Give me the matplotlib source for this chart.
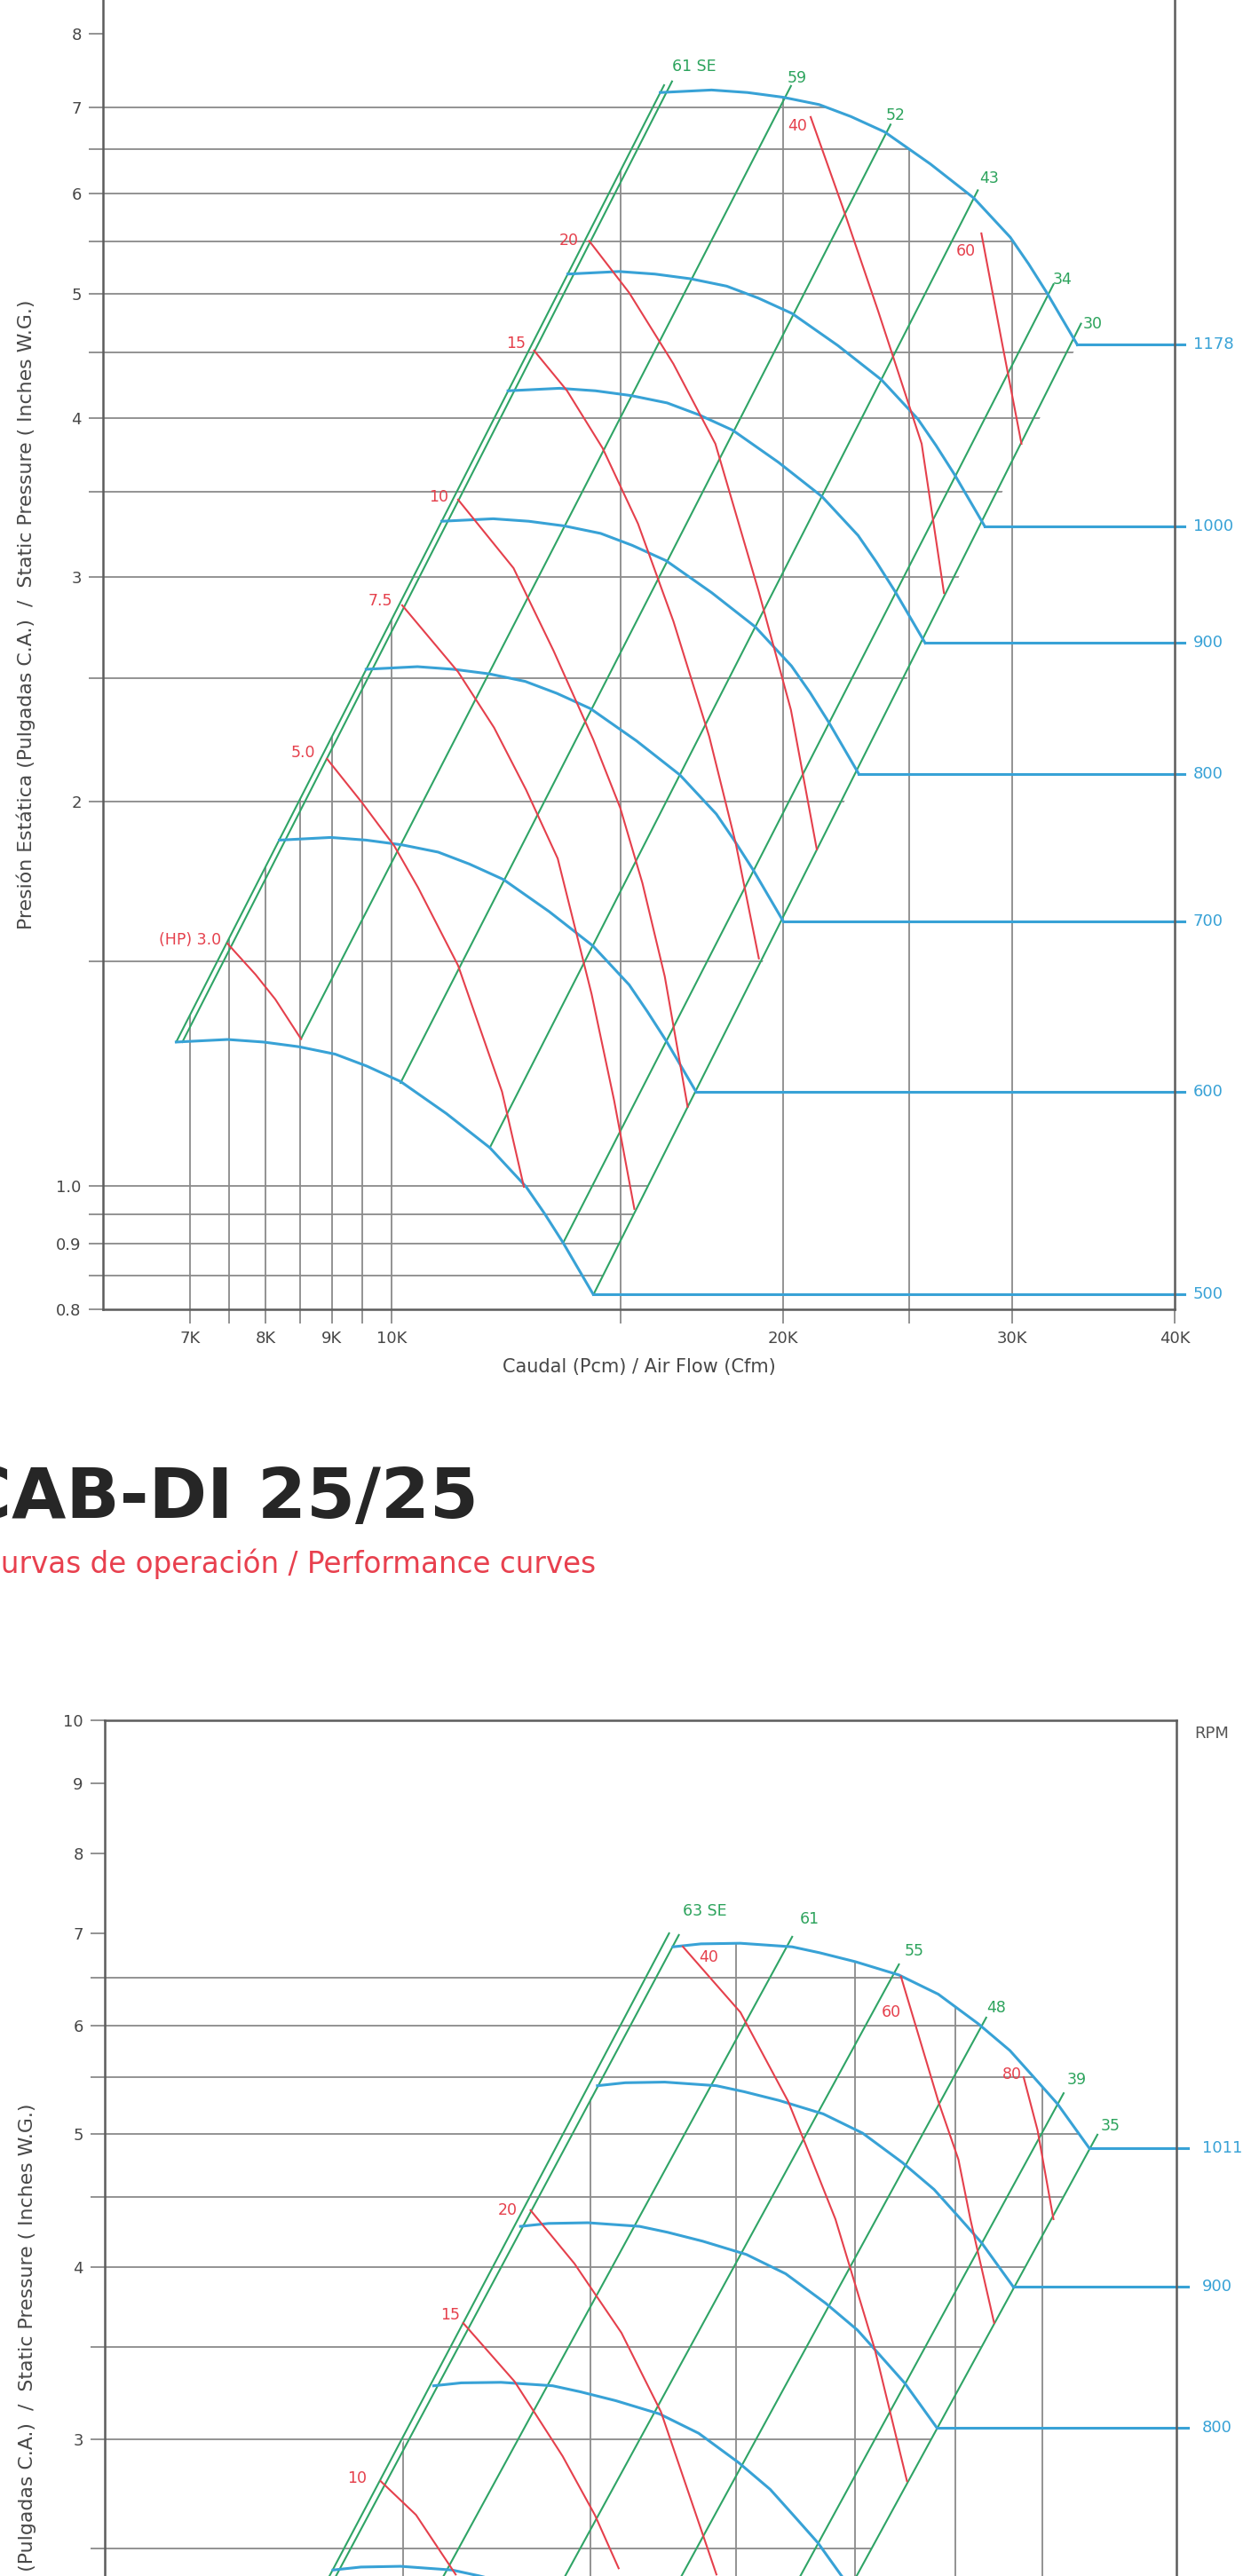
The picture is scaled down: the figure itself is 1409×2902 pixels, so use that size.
"""
CAB-DI: curvas de operación (dos gráficos log-log, recortados como en la hoja
del catálogo). Caudal en miles de CFM, presión estática en pulgadas C.A.
"""
import matplotlib
matplotlib.use("Agg")
import matplotlib.pyplot as plt
import matplotlib.transforms as mtransforms
from matplotlib.patches import Polygon
from matplotlib.ticker import FixedLocator, FixedFormatter, NullLocator

plt.rcParams["font.family"] = ["DejaVu Sans"]

W, H, DPI = 1409, 2902, 100

GRID = "#8a8a8a"
SPINE = "#5c5c5c"
TXT = "#474747"
BLUE = "#38a2d6"
GREEN = "#2fa466"
GREEN_TXT = "#2ca35c"
RED = "#e5404c"

# ── gráfico superior ──────────────────────────────────────────────────────────
A_RPM = ["500", "600", "700", "800", "900", "1000", "1178"]
A_Q500 = [6.83, 7.48, 7.97, 8.49, 9.05, 9.57, 10.16, 11.02, 11.90, 12.69, 13.11, 13.55, 14.29]
A_P500 = [1.296, 1.302, 1.296, 1.285, 1.268, 1.241, 1.207, 1.139, 1.071, 0.998, 0.951, 0.902, 0.822]
A_Q600 = [8.20, 8.98, 9.56, 10.19, 10.86, 11.48, 12.19, 13.22, 14.28, 15.23, 15.73, 16.26, 17.15]
A_P600 = [1.866, 1.875, 1.866, 1.850, 1.826, 1.787, 1.738, 1.640, 1.542, 1.437, 1.369, 1.299, 1.184]
A_Q700 = [9.56, 10.47, 11.16, 11.89, 12.67, 13.40, 14.22, 15.43, 16.66, 17.77, 18.35, 18.97, 20.01]
A_P700 = [2.540, 2.552, 2.540, 2.519, 2.485, 2.432, 2.366, 2.232, 2.099, 1.956, 1.864, 1.768, 1.611]
A_Q800 = [10.93, 11.97, 12.75, 13.58, 14.48, 15.31, 16.26, 17.63, 19.04, 20.30, 20.98, 21.68, 22.86]
A_P800 = [3.318, 3.333, 3.318, 3.290, 3.246, 3.177, 3.090, 2.916, 2.742, 2.555, 2.435, 2.309, 2.104]
A_Q900 = [12.29, 13.46, 14.35, 15.28, 16.29, 17.23, 18.29, 19.84, 21.42, 22.84, 23.60, 24.39, 25.72]
A_P900 = [4.199, 4.218, 4.199, 4.163, 4.108, 4.021, 3.911, 3.690, 3.470, 3.234, 3.081, 2.922, 2.663]
A_Q1000 = [13.66, 14.96, 15.94, 16.98, 18.10, 19.14, 20.32, 22.04, 23.80, 25.38, 26.22, 27.10, 28.58]
A_P1000 = [5.184, 5.208, 5.184, 5.140, 5.072, 4.964, 4.828, 4.556, 4.284, 3.992, 3.804, 3.608, 3.288]
A_Q1178 = [16.09, 17.62, 18.78, 20.00, 21.32, 22.55, 23.94, 25.96, 28.04, 29.90, 30.89, 31.92, 33.67]
A_P1178 = [7.194, 7.227, 7.194, 7.133, 7.039, 6.889, 6.700, 6.323, 5.945, 5.540, 5.279, 5.007, 4.563]

A_SURGE_LABEL = "61 SE"
A_SURGE_Q = [[6.83, 16.20], [6.905, 16.43]]
A_SURGE_P = [[1.296, 7.29], [1.296, 7.34]]

A_SYS_LABELS = ["59", "52", "43", "34", "30"]
A_SYS_Q = [[8.52, 20.28], [10.16, 24.19], [11.90, 28.23], [13.55, 32.28], [14.30, 33.89]]
A_SYS_P = [[1.304, 7.28], [1.204, 6.79], [1.071, 6.03], [0.902, 5.09], [0.822, 4.74]]

A_HP_LABELS = ["(HP) 3.0", "5.0", "7.5", "10", "15", "20", "40", "60"]
A_HP_Q = [
    [7.48, 7.86, 8.14, 8.52],
    [8.92, 9.50, 10.05, 10.48, 11.25, 12.16, 12.64],
    [10.19, 11.25, 11.99, 12.69, 13.42, 14.25, 14.83, 15.37],
    [11.25, 12.41, 13.32, 14.29, 14.99, 15.59, 16.22, 16.89],
    [12.87, 13.64, 14.53, 15.47, 16.47, 17.55, 18.39, 19.16],
    [14.19, 15.23, 16.47, 17.74, 19.16, 20.28, 21.23],
    [21.00, 22.22, 23.66, 25.56, 26.59],
    [28.41, 29.44, 30.50],
]
A_HP_P = [
    [1.548, 1.464, 1.400, 1.303],
    [2.161, 1.994, 1.846, 1.713, 1.488, 1.185, 0.998],
    [2.851, 2.528, 2.286, 2.043, 1.805, 1.413, 1.166, 0.959],
    [3.450, 3.049, 2.627, 2.238, 1.978, 1.727, 1.459, 1.153],
    [4.515, 4.201, 3.786, 3.303, 2.770, 2.249, 1.856, 1.507],
    [5.503, 5.012, 4.408, 3.816, 2.920, 2.360, 1.835],
    [6.883, 5.853, 4.852, 3.816, 2.915],
    [5.579, 4.602, 3.816],
]

A_XTICKS = [7, 7.5, 8, 8.5, 9, 9.5, 10, 15, 20, 25, 30, 40]
A_XLABELS = ["7K", "", "8K", "", "9K", "", "10K", "", "20K", "", "30K", "40K"]
A_VGRID = [7, 7.5, 8, 8.5, 9, 9.5, 10, 15, 20, 25, 30]
A_YLABELS = ["0.8", "", "0.9", "", "1.0", "", "2", "", "3", "", "4", "", "5", "", "6", "", "7", "8", "", ""]

# ── gráfico inferior: CAB-DI 25/25 ────────────────────────────────────────────
B_RPM = ["", "700", "800", "900", "1011"]
B_Q600 = [13.47, 14.06, 14.94, 16.17, 16.87, 17.82, 19.05, 20.24, 21.52, 22.59, 23.43, 24.30, 25.51]
B_P600 = [2.410, 2.422, 2.425, 2.410, 2.386, 2.351, 2.299, 2.226, 2.118, 2.026, 1.937, 1.853, 1.721]
B_Q700 = [15.72, 16.40, 17.43, 18.87, 19.69, 20.79, 22.23, 23.61, 25.11, 26.35, 27.34, 28.35, 29.76]
B_P700 = [3.281, 3.297, 3.300, 3.281, 3.248, 3.200, 3.130, 3.030, 2.884, 2.758, 2.637, 2.522, 2.342]
B_Q800 = [17.96, 18.75, 19.92, 21.56, 22.50, 23.75, 25.40, 26.98, 28.69, 30.12, 31.24, 32.40, 34.01]
B_P800 = [4.285, 4.306, 4.311, 4.285, 4.243, 4.180, 4.088, 3.958, 3.767, 3.602, 3.445, 3.294, 3.060]
B_Q900 = [20.21, 21.09, 22.41, 24.26, 25.31, 26.72, 28.58, 30.36, 32.28, 33.88, 35.14, 36.44, 38.26]
B_P900 = [5.423, 5.450, 5.456, 5.423, 5.369, 5.290, 5.173, 5.009, 4.767, 4.558, 4.360, 4.169, 3.872]
B_Q1011 = [22.70, 23.69, 25.17, 27.25, 28.43, 30.02, 32.10, 34.10, 36.26, 38.06, 39.48, 40.94, 42.98]
B_P1011 = [6.843, 6.877, 6.884, 6.843, 6.775, 6.675, 6.528, 6.321, 6.015, 5.752, 5.501, 5.261, 4.886]

B_SURGE_LABEL = "63 SE"
B_SURGE_Q = [[13.20, 22.56], [13.33, 22.90]]
B_SURGE_P = [[2.314, 7.00], [2.314, 6.98]]

B_SYS_LABELS = ["61", "55", "48", "39", "35"]
B_SYS_Q = [[15.50, 27.25], [18.50, 32.10], [21.50, 36.70], [24.30, 41.33], [25.51, 43.53]]
B_SYS_P = [[2.250, 6.959], [2.207, 6.645], [2.086, 6.078], [1.850, 5.355], [1.716, 4.996]]

B_HP_LABELS = ["10", "15", "20", "40", "60", "80"]
B_HP_Q = [
    [14.49, 15.30, 16.26],
    [16.45, 17.80, 19.16, 20.13, 20.88],
    [18.24, 19.51, 20.97, 22.28, 24.26],
    [23.04, 25.17, 27.08, 28.08, 29.12, 30.94, 32.50],
    [32.20, 34.10, 35.17, 35.82, 37.15],
    [38.87, 39.71, 40.69],
]
B_HP_P = [
    [2.797, 2.643, 2.392],
    [3.644, 3.304, 2.916, 2.643, 2.417],
    [4.402, 4.026, 3.585, 3.141, 2.392],
    [6.846, 6.132, 5.284, 4.792, 4.337, 3.485, 2.797],
    [6.511, 5.284, 4.792, 4.337, 3.645],
    [5.501, 5.033, 4.337],
]

B_XTICKS = [10, 15, 20, 25, 30, 35, 40]
B_XLABELS = ["", "", "", "", "", "", ""]
B_VGRID = [10, 15, 20, 25, 30, 35, 40]
B_YLABELS = ["", "", "", "", "", "", "", "", "3", "", "4", "", "5", "", "6", "", "7", "8", "9", "10"]

YTICKS = [0.8, 0.85, 0.9, 0.95, 1.0, 1.5, 2, 2.5, 3, 3.5, 4, 4.5, 5, 5.5, 6, 6.5, 7, 8, 9, 10]
HGRID = [0.85, 0.9, 0.95, 1.0, 1.5, 2, 2.5, 3, 3.5, 4, 4.5, 5, 5.5, 6, 6.5, 7, 7.5, 8, 9]

YLABEL = "Presión Estática (Pulgadas C.A.)  /  Static Pressure ( Inches W.G.)"
XLABEL = "Caudal (Pcm) / Air Flow (Cfm)"

# desplazamientos de etiquetas, en píxeles (x, y hacia arriba)
A_SURGE_OFF = (0, 17)
A_SYS_OFF = [(-4, 9), (-5, 10), (2, 13), (-1, 5), (2, 0)]
A_HP_OFF = [(-7, 4), (-13, 7), (-11, 5), (-11, 3), (-9, 8), (-12, 0), (-15, -10), (-18, -20)]
A_HP_HA = ["right"] * 6 + ["center", "center"]
B_SURGE_OFF = (4, 27)
B_SYS_OFF = [(9, 20), (6, 15), (0, 11), (4, 15), (4, 10)]
B_HP_OFF = [(-16, 3), (-4, 9), (-15, 0), (29, -12), (-11, -40), (-13, 3)]
B_HP_HA = ["right", "right", "right", "center", "center", "center"]


def off(d):
    return d[0] * 72 / DPI, d[1] * 72 / DPI


def setup_axes(ax, xlim, xticks, xlabels, ylabels):
    ax.set_xscale("log")
    ax.set_yscale("log")
    ax.set_xlim(*xlim)
    ax.set_ylim(0.8, 10)
    ax.xaxis.set_major_locator(FixedLocator(xticks))
    ax.xaxis.set_major_formatter(FixedFormatter(xlabels))
    ax.yaxis.set_major_locator(FixedLocator(YTICKS))
    ax.yaxis.set_major_formatter(FixedFormatter(ylabels))
    ax.xaxis.set_minor_locator(NullLocator())
    ax.yaxis.set_minor_locator(NullLocator())
    ax.tick_params(which="major", direction="out", length=11.5, width=1.3,
                   color=GRID, labelsize=13, labelcolor=TXT)
    ax.tick_params(axis="y", pad=6)
    ax.tick_params(axis="x", pad=6)
    for s in ax.spines.values():
        s.set_color(SPINE)
        s.set_linewidth(1.8)
        s.set_zorder(6)


def draw_grid(ax, hvals, vvals, hpoly, vpoly):
    # las líneas de la rejilla terminan en el borde de la zona de operación
    hp = Polygon(hpoly, closed=True, transform=ax.transData, fill=False, edgecolor="none")
    vp = Polygon(vpoly, closed=True, transform=ax.transData, fill=False, edgecolor="none")
    for y in hvals:
        ln = ax.axhline(y, color=GRID, lw=1.3, zorder=1)
        ln.set_clip_path(hp)
    for x in vvals:
        ln = ax.axvline(x, color=GRID, lw=1.3, zorder=1)
        ln.set_clip_path(vp)


def draw_fan(ax, curves, rpms, line_x, label_x, rpm_title):
    blend = mtransforms.blended_transform_factory(ax.transAxes, ax.transData)
    to_axes = ax.transAxes.inverted()
    for (q, p), rpm in zip(curves, rpms):
        ax.plot(q, p, color=BLUE, lw=2.2, zorder=4, solid_joinstyle="round")
        x0 = to_axes.transform(ax.transData.transform((q[-1], p[-1])))[0]
        ax.plot([x0, line_x], [p[-1], p[-1]], transform=blend, color=BLUE,
                lw=2.2, zorder=4, clip_on=False)
        if rpm:
            ax.text(label_x, p[-1], rpm, transform=blend, color=BLUE,
                    fontsize=13, ha="left", va="center")
    if rpm_title:
        ax.text(label_x - 0.007, 0.991, "RPM", transform=ax.transAxes, color="#555555",
                fontsize=13, ha="left", va="center")


def draw_system(ax, surge_q, surge_p, surge_label, surge_off, qs, ps, labels, offs):
    for q, p in zip(surge_q, surge_p):
        ax.plot(q, p, color=GREEN, lw=1.5, zorder=3)
    ax.annotate(surge_label, (surge_q[1][1], surge_p[1][1]), xytext=off(surge_off),
                textcoords="offset points", color=GREEN_TXT, fontsize=12.5,
                ha="left", va="center")
    for q, p, lab, d in zip(qs, ps, labels, offs):
        ax.plot(q, p, color=GREEN, lw=1.5, zorder=3)
        ax.annotate(lab, (q[1], p[1]), xytext=off(d), textcoords="offset points",
                    color=GREEN_TXT, fontsize=12.5, ha="left", va="center")


def draw_hp(ax, qs, ps, labels, offs, has):
    for q, p, lab, d, ha in zip(qs, ps, labels, offs, has):
        ax.plot(q, p, color=RED, lw=1.5, zorder=5, solid_joinstyle="round")
        ax.annotate(lab, (q[0], p[0]), xytext=off(d), textcoords="offset points",
                    color=RED, fontsize=12.5, ha=ha, va="center")


fig = plt.figure(figsize=(W / DPI, H / DPI), dpi=DPI)
fig.patch.set_facecolor("white")

# ── gráfico superior ──
ax1 = fig.add_axes([116 / W, 1 - 1475 / H, 1207 / W, 1576.3 / H])
setup_axes(ax1, (6.0, 40.0), A_XTICKS, A_XLABELS, A_YLABELS)
a_curves = [(A_Q500, A_P500), (A_Q600, A_P600), (A_Q700, A_P700), (A_Q800, A_P800),
            (A_Q900, A_P900), (A_Q1000, A_P1000), (A_Q1178, A_P1178)]
a_h = ([(1, 0.1), (1, A_P1178[0])] + list(zip(A_Q1178, A_P1178))
       + [(A_Q500[-1], A_P500[-1]), (A_Q500[-1], 0.1)])
a_v = ([(A_Q500[0], 0.1), (A_Q500[0], A_P500[0])] + list(zip(A_Q1178, A_P1178))
       + [(100, A_P1178[-1]), (100, 0.1)])
draw_grid(ax1, HGRID, A_VGRID, a_h, a_v)
draw_system(ax1, A_SURGE_Q, A_SURGE_P, A_SURGE_LABEL, A_SURGE_OFF,
            A_SYS_Q, A_SYS_P, A_SYS_LABELS, A_SYS_OFF)
draw_fan(ax1, a_curves, A_RPM, 1.009, 1.017, False)
draw_hp(ax1, A_HP_Q, A_HP_P, A_HP_LABELS, A_HP_OFF, A_HP_HA)

fig.text(720 / W, 1 - 1540 / H, XLABEL, fontsize=15, color=TXT, ha="center", va="center")
fig.text(29 / W, 1 - 692 / H, YLABEL, fontsize=15.8, color=TXT, rotation=90,
         ha="center", va="center")

# ── título ──
fig.text(-45 / W, 1 - 1710 / H, "CAB-DI 25/25", fontsize=57, fontweight="bold",
         color="#262626", ha="left", va="baseline")
fig.text(-22 / W, 1 - 1772 / H, "Curvas de operación / Performance curves",
         fontsize=23.5, color="#e8404e", ha="left", va="baseline")

# ── gráfico inferior ──
ax2 = fig.add_axes([118 / W, 1 - 3637.1 / H, 1207 / W, 1699.1 / H])
setup_axes(ax2, (9.49, 49.14), B_XTICKS, B_XLABELS, B_YLABELS)
b_curves = [(B_Q600, B_P600), (B_Q700, B_P700), (B_Q800, B_P800),
            (B_Q900, B_P900), (B_Q1011, B_P1011)]
b_h = ([(1, 0.1), (1, B_P1011[0])] + list(zip(B_Q1011, B_P1011))
       + [(B_SYS_Q[-1][0], B_SYS_P[-1][0]), (B_SYS_Q[-1][0], 0.1)])
b_v = ([(B_SURGE_Q[0][0], 0.1), (B_SURGE_Q[0][0], B_SURGE_P[0][0])]
       + list(zip(B_Q1011, B_P1011)) + [(100, B_P1011[-1]), (100, 0.1)])
draw_grid(ax2, HGRID, B_VGRID, b_h, b_v)
draw_system(ax2, B_SURGE_Q, B_SURGE_P, B_SURGE_LABEL, B_SURGE_OFF,
            B_SYS_Q, B_SYS_P, B_SYS_LABELS, B_SYS_OFF)
draw_fan(ax2, b_curves, B_RPM, 1.011, 1.024, True)
draw_hp(ax2, B_HP_Q, B_HP_P, B_HP_LABELS, B_HP_OFF, B_HP_HA)
fig.text(30 / W, 1 - 2724 / H, YLABEL, fontsize=15.8, color=TXT, rotation=90,
         ha="center", va="center")

fig.savefig("out.png", dpi=DPI, facecolor="white")
